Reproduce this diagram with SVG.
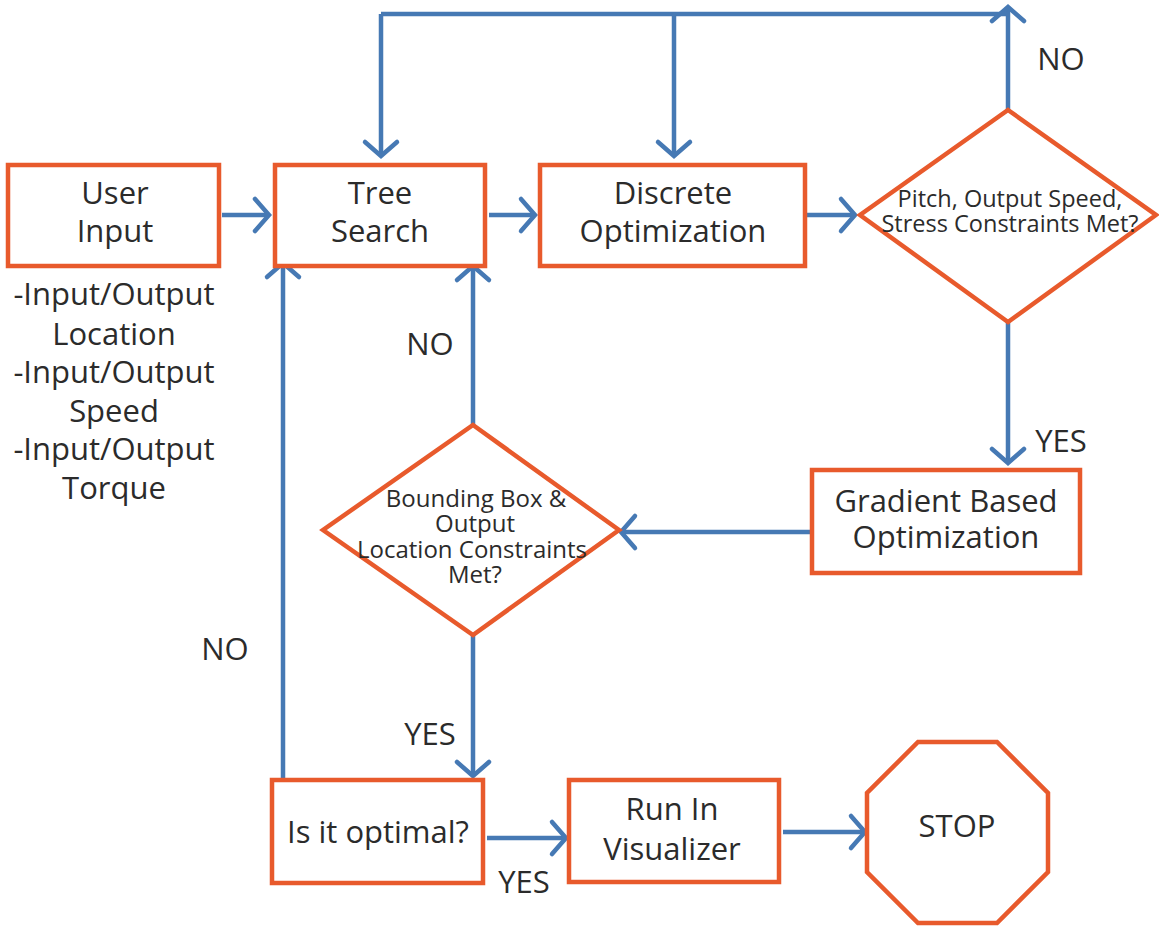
<svg xmlns="http://www.w3.org/2000/svg" width="1159" height="930" viewBox="0 0 1159 930">
  <style>
    .box { fill: #ffffff; stroke: #e85a2c; stroke-width: 4.5; }
    .wire { fill: none; stroke: #4679b4; stroke-width: 4.5; }
    .lbl { font-family: "Open Sans", "Liberation Sans", sans-serif; font-size: 31px; fill: #2b2b2b; text-anchor: middle; }
    .sm { font-size: 23.5px; }
    .md { font-size: 24px; }
  </style>
  <defs>
    <marker id="arrow" markerUnits="userSpaceOnUse" viewBox="-18 -20 24 40" refX="0" refY="0" markerWidth="24" markerHeight="40" orient="auto">
      <path d="M -14 -16 L 0 0 L -14 16" fill="none" stroke="#4679b4" stroke-width="4.5" stroke-linecap="round" stroke-linejoin="miter"/>
    </marker>
  </defs>
  <rect width="1159" height="930" fill="#ffffff"/>

  <!-- connectors -->
  <g id="connectors">
    <path class="wire" d="M 222 215 H 269" marker-end="url(#arrow)"/>
    <path class="wire" d="M 489 215 H 535" marker-end="url(#arrow)"/>
    <path class="wire" d="M 807 215 H 855" marker-end="url(#arrow)"/>
    <!-- NO loop over the top -->
    <path class="wire" d="M 1008 110 V 7" marker-end="url(#arrow)"/>
    <path class="wire" d="M 381 14 H 1008"/>
    <path class="wire" d="M 381 14 V 156" marker-end="url(#arrow)"/>
    <path class="wire" d="M 674 14 V 156" marker-end="url(#arrow)"/>
    <!-- YES to gradient step -->
    <path class="wire" d="M 1008 322 V 463" marker-end="url(#arrow)"/>
    <path class="wire" d="M 810 532 H 621" marker-end="url(#arrow)"/>
    <path class="wire" d="M 473 425 V 266" marker-end="url(#arrow)"/>
    <path class="wire" d="M 473 635 V 776" marker-end="url(#arrow)"/>
    <path class="wire" d="M 283 778 V 263" marker-end="url(#arrow)"/>
    <path class="wire" d="M 487 838 H 566" marker-end="url(#arrow)"/>
    <path class="wire" d="M 783 832 H 865" marker-end="url(#arrow)"/>
  </g>

  <g id="user-input">
    <rect class="box" x="8" y="165" width="211" height="101"/>
    <text class="lbl" x="115" y="204">User</text>
    <text class="lbl" x="115" y="242">Input</text>
  </g>

  <g id="input-notes">
    <text class="lbl" x="114" y="305">-Input/Output</text>
    <text class="lbl" x="114" y="345">Location</text>
    <text class="lbl" x="114" y="383">-Input/Output</text>
    <text class="lbl" x="114" y="422">Speed</text>
    <text class="lbl" x="114" y="460">-Input/Output</text>
    <text class="lbl" x="114" y="499">Torque</text>
  </g>

  <g id="tree-search">
    <rect class="box" x="275" y="165" width="210" height="101"/>
    <text class="lbl" x="380" y="204">Tree</text>
    <text class="lbl" x="380" y="242">Search</text>
  </g>

  <g id="discrete-optimization">
    <rect class="box" x="540" y="165" width="265" height="101"/>
    <text class="lbl" x="673" y="204">Discrete</text>
    <text class="lbl" x="673" y="242">Optimization</text>
  </g>

  <g id="constraint-check">
    <polygon class="box" points="1008,110 1156,215 1008,322 860,215"/>
    <text class="lbl sm" x="1010" y="207">Pitch, Output Speed,</text>
    <text class="lbl sm" x="1010" y="232">Stress Constraints Met?</text>
  </g>

  <g id="gradient-optimization">
    <rect class="box" x="812" y="470" width="268" height="103"/>
    <text class="lbl" x="946" y="512">Gradient Based</text>
    <text class="lbl" x="946" y="548">Optimization</text>
  </g>

  <g id="bounding-check">
    <polygon class="box" points="473,425 619,530 473,635 323,530"/>
    <text class="lbl md" x="476" y="507">Bounding Box &amp;</text>
    <text class="lbl md" x="475" y="532">Output</text>
    <text class="lbl md" x="472" y="558">Location Constraints</text>
    <text class="lbl md" x="475" y="583">Met?</text>
  </g>

  <g id="optimal-check">
    <rect class="box" x="272" y="780" width="211" height="103"/>
    <text class="lbl" x="378" y="843">Is it optimal?</text>
  </g>

  <g id="run-visualizer">
    <rect class="box" x="569" y="780" width="210" height="102"/>
    <text class="lbl" x="672" y="820">Run In</text>
    <text class="lbl" x="672" y="860">Visualizer</text>
  </g>

  <g id="stop">
    <polygon class="box" points="918,742 997,742 1048,793 1048,872 997,923 918,923 867,872 867,793"/>
    <text class="lbl" x="957" y="837">STOP</text>
  </g>

  <g id="branch-labels">
    <text class="lbl" x="1061" y="70">NO</text>
    <text class="lbl" x="430" y="355">NO</text>
    <text class="lbl" x="225" y="660">NO</text>
    <text class="lbl" x="1061" y="452">YES</text>
    <text class="lbl" x="430" y="745">YES</text>
    <text class="lbl" x="524" y="893">YES</text>
  </g>
</svg>
